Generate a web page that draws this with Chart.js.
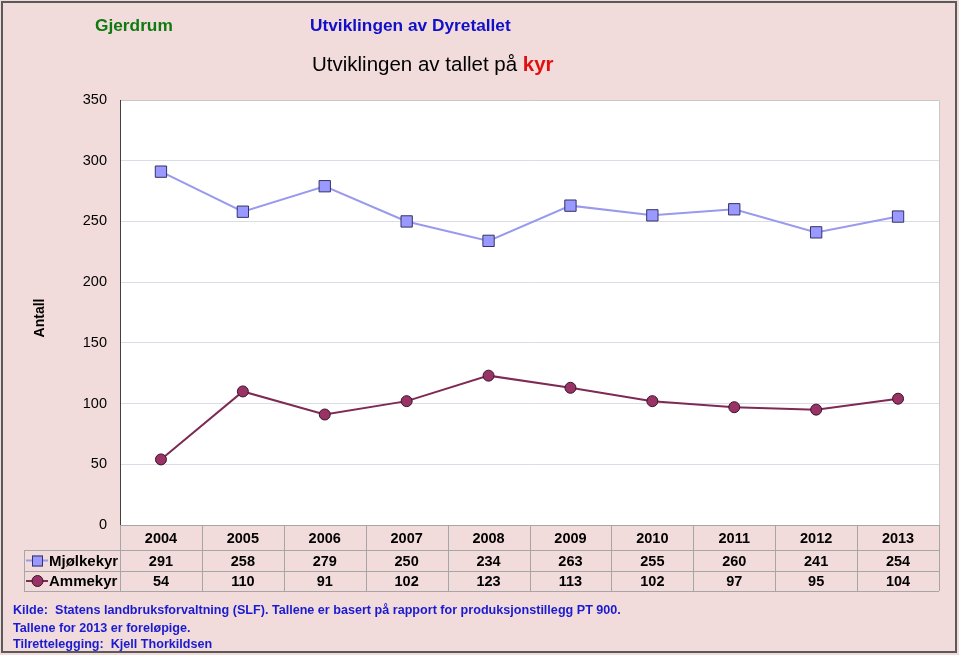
<!DOCTYPE html>
<html>
<head>
<meta charset="utf-8">
<script src="https://cdn.jsdelivr.net/npm/chart.js@4/dist/chart.umd.min.js"></script>
<style>
  html, body { margin: 0; padding: 0; background: #f2dcdb; }
  canvas { display: block; }
</style>
</head>
<body>
<canvas id="kyrChart" width="959" height="655"></canvas>
<script>
// Data
const years = ['2004', '2005', '2006', '2007', '2008', '2009', '2010', '2011', '2012', '2013'];
const mjolkekyr = [291, 258, 279, 250, 234, 263, 255, 260, 241, 254];
const ammekyr = [54, 110, 91, 102, 123, 113, 102, 97, 95, 104];
const yTicks = [0, 50, 100, 150, 200, 250, 300, 350];

const FONT = '"Liberation Sans", Arial, sans-serif';
const GRID_COL = '#a6a6a6';

// Background, frame, titles and data table
const decorPlugin = {
  id: 'decor',
  beforeDraw(chart) {
    const { ctx, chartArea: a } = chart;
    ctx.save();
    ctx.fillStyle = '#ffffff';
    ctx.fillRect(a.left, a.top, a.right - a.left, a.bottom - a.top);
    ctx.restore();
  },
  afterDraw(chart) {
    const { ctx, chartArea: a } = chart;
    const xs = chart.scales.x;
    ctx.save();

    // plot frame (top + right light, left dark)
    ctx.strokeStyle = '#c8c8c8';
    ctx.lineWidth = 1;
    ctx.beginPath();
    ctx.moveTo(a.left, a.top + 0.5); ctx.lineTo(a.right + 0.5, a.top + 0.5); ctx.lineTo(a.right + 0.5, a.bottom);
    ctx.stroke();
    ctx.strokeStyle = '#404040';
    ctx.beginPath();
    ctx.moveTo(a.left + 0.5, a.top); ctx.lineTo(a.left + 0.5, a.bottom);
    ctx.stroke();

    // outer frame
    ctx.strokeStyle = '#5a5a5a';
    ctx.lineWidth = 2;
    ctx.strokeRect(2, 2, 954, 650);

    // titles
    ctx.textBaseline = 'middle';
    ctx.textAlign = 'left';
    ctx.font = 'bold 17.3px ' + FONT;
    ctx.fillStyle = '#0f7a0f';
    ctx.fillText('Gjerdrum', 95, 26);
    ctx.fillStyle = '#1010c8';
    ctx.fillText('Utviklingen av Dyretallet', 310, 26);
    ctx.font = '20.5px ' + FONT;
    ctx.fillStyle = '#000000';
    const t1 = 'Utviklingen av tallet på ';
    ctx.fillText(t1, 312, 65);
    ctx.fillStyle = '#e01010';
    ctx.font = 'bold 20.5px ' + FONT;
    ctx.fillText('kyr', 312 + (() => { ctx.font = '20.5px ' + FONT; const w = ctx.measureText(t1).width; ctx.font = 'bold 20.5px ' + FONT; return w; })(), 65);

    // y axis title
    ctx.save();
    ctx.translate(40, 318);
    ctx.rotate(-Math.PI / 2);
    ctx.textAlign = 'center';
    ctx.font = 'bold 14px ' + FONT;
    ctx.fillStyle = '#000000';
    ctx.fillText('Antall', 0, 0);
    ctx.restore();

    // data table
    const colW = (a.right - a.left) / years.length;
    const rowY = [a.bottom, 550, 571, 591];
    const legL = 24;
    ctx.strokeStyle = GRID_COL;
    ctx.lineWidth = 1;
    ctx.beginPath();
    ctx.moveTo(a.left, a.bottom + 0.5); ctx.lineTo(a.right, a.bottom + 0.5);
    for (let r = 1; r < rowY.length; r++) {
      ctx.moveTo(legL, rowY[r] + 0.5); ctx.lineTo(a.right, rowY[r] + 0.5);
    }
    ctx.moveTo(legL + 0.5, rowY[1]); ctx.lineTo(legL + 0.5, rowY[3]);
    for (let i = 0; i <= years.length; i++) {
      const x = Math.round(a.left + i * colW) + 0.5;
      ctx.moveTo(x, rowY[0]); ctx.lineTo(x, rowY[3]);
    }
    ctx.stroke();

    ctx.font = 'bold 14.5px ' + FONT;
    ctx.fillStyle = '#000000';
    ctx.textAlign = 'center';
    const rows = [years, mjolkekyr, ammekyr];
    years.forEach((y, i) => {
      const cx = xs.getPixelForValue(i);
      rows.forEach((row, r) => {
        ctx.fillText(String(row[i]), cx, (rowY[r] + rowY[r + 1]) / 2 + 1);
      });
    });

    // legend keys in the table
    const keys = [
      { name: 'Mjølkekyr', ds: chart.data.datasets[0], y: (rowY[1] + rowY[2]) / 2 },
      { name: 'Ammekyr', ds: chart.data.datasets[1], y: (rowY[2] + rowY[3]) / 2 },
    ];
    keys.forEach(k => {
      ctx.strokeStyle = k.ds.borderColor;
      ctx.lineWidth = 2;
      ctx.beginPath();
      ctx.moveTo(26, k.y); ctx.lineTo(48, k.y);
      ctx.stroke();
      ctx.fillStyle = k.ds.pointBackgroundColor;
      ctx.strokeStyle = k.ds.pointBorderColor;
      ctx.lineWidth = 1;
      if (k.ds.pointStyle === 'rect') {
        ctx.fillRect(32, k.y - 5, 11, 11);
        ctx.strokeRect(32.5, k.y - 4.5, 10, 10);
      } else {
        ctx.beginPath();
        ctx.arc(37.5, k.y, 5.5, 0, Math.PI * 2);
        ctx.fill(); ctx.stroke();
      }
      ctx.fillStyle = '#000000';
      ctx.textAlign = 'left';
      ctx.font = 'bold 15px ' + FONT;
      ctx.fillText(k.name, 49, k.y + 1);
    });

    // footer
    ctx.font = 'bold 12.6px ' + FONT;
    ctx.fillStyle = '#1a1ad0';
    ctx.textAlign = 'left';
    ctx.fillText('Kilde:  Statens landbruksforvaltning (SLF). Tallene er basert på rapport for produksjonstillegg PT 900.', 13, 611);
    ctx.fillText('Tallene for 2013 er foreløpige.', 13, 629);
    ctx.fillText('Tilrettelegging:  Kjell Thorkildsen', 13, 645);

    ctx.restore();
  }
};

new Chart(document.getElementById('kyrChart'), {
  type: 'line',
  data: {
    labels: years,
    datasets: [
      {
        label: 'Mjølkekyr',
        data: mjolkekyr,
        borderColor: '#9999ee',
        borderWidth: 2,
        pointStyle: 'rect',
        pointRadius: 8,
        pointBackgroundColor: '#9999ff',
        pointBorderColor: '#333366',
        pointBorderWidth: 1,
        tension: 0,
      },
      {
        label: 'Ammekyr',
        data: ammekyr,
        borderColor: '#7f2a55',
        borderWidth: 2,
        pointStyle: 'circle',
        pointRadius: 5.5,
        pointBackgroundColor: '#993366',
        pointBorderColor: '#3a1428',
        pointBorderWidth: 1,
        tension: 0,
      },
    ],
  },
  options: {
    responsive: false,
    animation: false,
    layout: { padding: { left: 0, top: 100, right: 20, bottom: 130 } },
    plugins: { legend: { display: false }, tooltip: { enabled: false } },
    scales: {
      x: {
        offset: true,
        ticks: { display: false },
        grid: { display: false },
        border: { display: false },
        afterFit(s) { s.height = 0; },
      },
      y: {
        min: 0,
        max: 350,
        afterBuildTicks(s) { s.ticks = yTicks.map(v => ({ value: v })); },
        ticks: { color: '#000000', font: { family: FONT, size: 14.5 }, padding: 13 },
        grid: { color: '#dcdce6', drawTicks: false },
        border: { display: false },
        afterFit(s) { s.width = 120; },
      },
    },
  },
  plugins: [decorPlugin],
});
</script>
</body>
</html>
